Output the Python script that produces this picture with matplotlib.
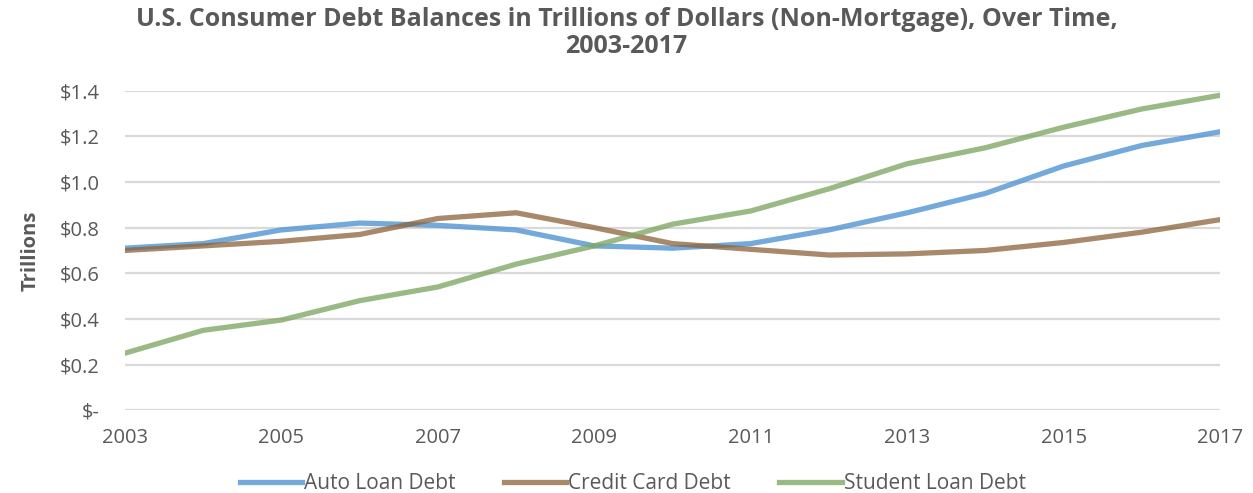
import matplotlib.pyplot as plt

plt.rcParams['font.family'] = ['Open Sans', 'DejaVu Sans']

years = list(range(2003, 2018))
auto_loan = [0.71, 0.73, 0.79, 0.82, 0.81, 0.79, 0.72, 0.71, 0.73, 0.79, 0.865, 0.95, 1.07, 1.16, 1.22]
credit_card = [0.70, 0.72, 0.74, 0.77, 0.84, 0.865, 0.80, 0.73, 0.705, 0.68, 0.685, 0.70, 0.735, 0.78, 0.835]
student_loan = [0.25, 0.35, 0.395, 0.48, 0.54, 0.64, 0.72, 0.815, 0.873, 0.97, 1.08, 1.15, 1.24, 1.32, 1.38]

y_ticks = [0, 0.2, 0.4, 0.6, 0.8, 1.0, 1.2, 1.4]
y_labels = ['$-', '$0.2', '$0.4', '$0.6', '$0.8', '$1.0', '$1.2', '$1.4']
x_ticks = [2003, 2005, 2007, 2009, 2011, 2013, 2015, 2017]

text_col = '#595959'

fig = plt.figure(figsize=(12.53, 4.93), dpi=100)
ax = fig.add_axes([0.0998, 0.168, 0.8739, 0.648])

ax.plot(years, auto_loan, color='#5b9bd5', lw=3.8, alpha=0.85, label='Auto Loan Debt')
ax.plot(years, credit_card, color='#8c6239', lw=3.8, alpha=0.75, label='Credit Card Debt')
ax.plot(years, student_loan, color='#82a865', lw=3.8, alpha=0.8, label='Student Loan Debt')

ax.set_xlim(2003, 2017)
ax.set_ylim(0, 1.4)
ax.set_yticks(y_ticks)
ax.set_yticklabels(y_labels)
ax.set_xticks(x_ticks)
ax.tick_params(axis='both', length=0, labelsize=14.5, colors=text_col)
ax.tick_params(axis='x', pad=13)
ax.tick_params(axis='y', pad=18)
ax.grid(axis='y', color='#d9d9d9', lw=1.6)
ax.set_axisbelow(True)
for s in ax.spines.values():
    s.set_visible(False)

ax.set_ylabel('Trillions', fontsize=14.5, fontweight='bold', color=text_col, labelpad=14)

fig.suptitle('U.S. Consumer Debt Balances in Trillions of Dollars (Non-Mortgage), Over Time,\n2003-2017',
             x=0.5, y=0.985, fontsize=18, fontweight='bold', color=text_col, linespacing=1.1)

leg = fig.legend(loc='lower center', bbox_to_anchor=(0.505, -0.04), ncol=3, frameon=False,
                 fontsize=15, handlelength=3.0, handletextpad=0.1, columnspacing=2.3)
for t in leg.get_texts():
    t.set_color(text_col)

fig.savefig('out.png', dpi=100)
